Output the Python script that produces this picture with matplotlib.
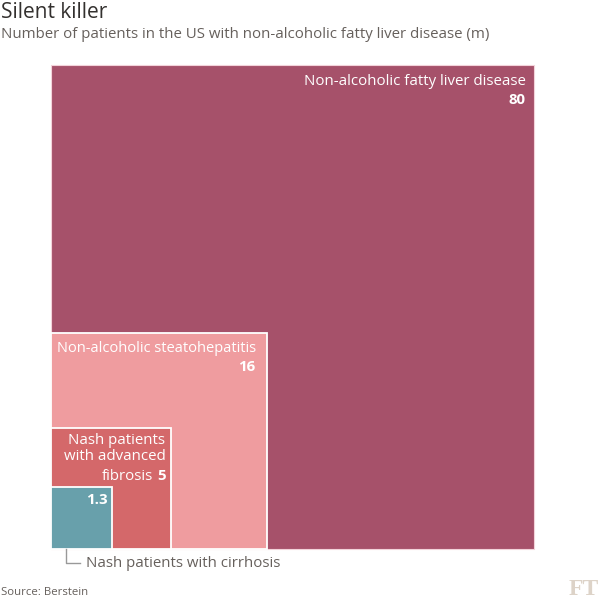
import matplotlib.pyplot as plt
from matplotlib.patches import Rectangle
import numpy as np

plt.rcParams['font.family'] = ['Open Sans', 'DejaVu Sans']

# data (millions of patients)
names = ['Non-alcoholic fatty liver disease', 'Non-alcoholic steatohepatitis',
         'Nash patients with advanced fibrosis', 'Nash patients with cirrhosis']
values = [80, 16, 5, 1.3]
colors = ['#a6516a', '#ef9c9f', '#d4686a', '#68a0ab']

sides = np.sqrt(values)
big = sides[0]

fig = plt.figure(figsize=(6, 6), dpi=100)
# axes box = the biggest square, in figure pixels
ax = fig.add_axes([50.7/600, 51/600, 483/600, 484/600])
ax.set_xlim(0, big)
ax.set_ylim(0, big)
ax.axis('off')
px = big / 483.0   # data units per pixel

for i, (s, c) in enumerate(zip(sides, colors)):
    if i == 0:
        ax.add_patch(Rectangle((0, 0), s, s, facecolor=c, edgecolor='#f3d3da',
                               lw=0.8, clip_on=False))
    else:
        ax.add_patch(Rectangle((0, 0), s, s, facecolor=c, edgecolor='white',
                               lw=1.3, clip_on=False))

fs = 10.8
white = 'white'
# labels inside squares
ax.annotate(names[0], (sides[0], sides[0]), xytext=(-8, -9), textcoords='offset pixels',
            ha='right', va='top', color=white, fontsize=fs)
ax.annotate('80', (sides[0], sides[0]), xytext=(-8, -28), textcoords='offset pixels',
            ha='right', va='top', color=white, fontsize=fs, fontweight='bold')

ax.annotate(names[1], (sides[1], sides[1]), xytext=(-11, -8), textcoords='offset pixels',
            ha='right', va='top', color=white, fontsize=10.5)
ax.annotate('16', (sides[1], sides[1]), xytext=(-11, -27), textcoords='offset pixels',
            ha='right', va='top', color=white, fontsize=fs, fontweight='bold')

ax.annotate('Nash patients\nwith advanced', (sides[2], sides[2]), xytext=(-6, -5),
            textcoords='offset pixels', ha='right', va='top', color=white,
            fontsize=fs, linespacing=1.12)
ax.annotate('fibrosis', (sides[2], sides[2]), xytext=(-18, -41), textcoords='offset pixels',
            ha='right', va='top', color=white, fontsize=fs)
ax.annotate('5', (sides[2], sides[2]), xytext=(-6, -41), textcoords='offset pixels',
            ha='right', va='top', color=white, fontsize=fs, fontweight='bold')

ax.annotate('1.3', (sides[3], sides[3]), xytext=(-5, -6), textcoords='offset pixels',
            ha='right', va='top', color=white, fontsize=fs, fontweight='bold')

# callout for the smallest square
x0 = sides[3] * 0.25
ax.plot([x0, x0, x0 + 14*px], [0, -14*px, -14*px], color='#999999', lw=1,
        clip_on=False)
ax.text(x0 + 20*px, -14*px, names[3], ha='left', va='center', color='#66605c',
        fontsize=fs)

# titles and footer
fig.text(1/600, 1 - 2/600, 'Silent killer', ha='left', va='top', fontsize=15,
         color='#33302e')
fig.text(1/600, 1 - 27/600, 'Number of patients in the US with non-alcoholic fatty liver disease (m)',
         ha='left', va='top', fontsize=fs, color='#66605c')
fig.text(1/600, 2/600, 'Source: Berstein', ha='left', va='bottom', fontsize=8.2,
         color='#66605c')
fig.text(599/600, 0/600, 'FT', ha='right', va='bottom', fontsize=17,
         family='Liberation Serif', fontweight='bold', color='#ddd3c8')

plt.savefig('out.png', dpi=100)
